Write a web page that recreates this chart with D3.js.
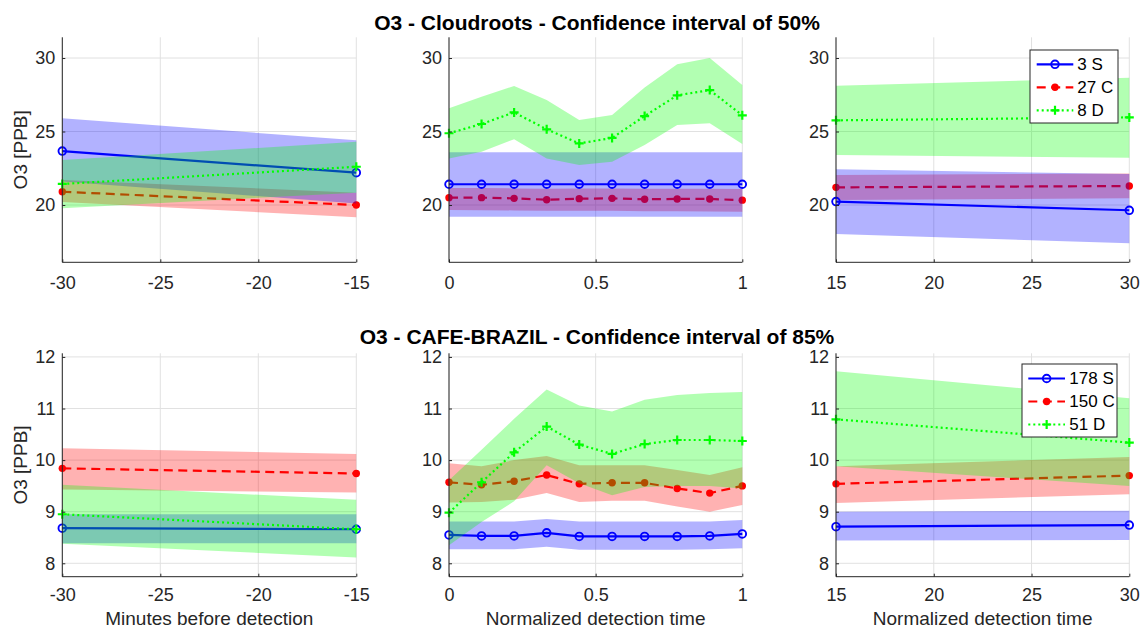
<!DOCTYPE html>
<html><head><meta charset="utf-8">
<script src="https://cdn.jsdelivr.net/npm/d3@7"></script>
<style>body{margin:0;background:#fff} svg{display:block} text{font-family:'Liberation Sans',Arial,Helvetica,sans-serif}</style>
</head><body><svg id="c" width="1142" height="630"></svg>
<script>
// ---------- data ----------
const titles = ["O3 - Cloudroots - Confidence interval of 50%", "O3 - CAFE-BRAZIL - Confidence interval of 85%"];
const xLabels = ["Minutes before detection", "Normalized detection time", "Normalized detection time"];
const yLabel = "O3 [PPB]";
const legendTop = ["3 S", "27 C", "8 D"];
const legendBottom = ["178 S", "150 C", "51 D"];

const xPre = [-30, -15];
const xNorm = [0, 0.111, 0.222, 0.333, 0.444, 0.556, 0.667, 0.778, 0.889, 1];
const xPost = [15, 30];

const xTicksPre = [-30, -25, -20, -15];
const xTicksNorm = [0, 0.5, 1];
const xTicksPost = [15, 20, 25, 30];
const yTicksTop = [20, 25, 30];
const yTicksBottom = [8, 9, 10, 11, 12];
const yDomainTop = [16.1, 31.41];
const yDomainBottom = [7.74, 12.07];

// Cloudroots (top row)
const cloudPreS = [23.67, 22.2],  cloudPreSLo = [21.6, 20.1],  cloudPreSHi = [25.9, 24.4];
const cloudPreC = [20.9, 20.0],   cloudPreCLo = [20.2, 19.16], cloudPreCHi = [21.7, 20.84];
const cloudPreD = [21.43, 22.6],  cloudPreDLo = [19.77, 20.84], cloudPreDHi = [23.06, 24.3];

const cloudDurS   = [21.41, 21.41, 21.41, 21.41, 21.41, 21.41, 21.41, 21.41, 21.41, 21.41];
const cloudDurSLo = [19.2, 19.2, 19.2, 19.2, 19.2, 19.2, 19.2, 19.2, 19.2, 19.2];
const cloudDurSHi = [23.58, 23.58, 23.58, 23.58, 23.58, 23.58, 23.58, 23.58, 23.58, 23.58];
const cloudDurC   = [20.5, 20.5, 20.45, 20.36, 20.43, 20.45, 20.39, 20.41, 20.41, 20.33];
const cloudDurCLo = [19.66, 19.65, 19.63, 19.6, 19.6, 19.6, 19.58, 19.57, 19.56, 19.54];
const cloudDurCHi = [21.15, 21.15, 21.13, 21.1, 21.12, 21.13, 21.1, 21.1, 21.1, 21.08];
const cloudDurD   = [24.88, 25.51, 26.30, 25.15, 24.19, 24.56, 26.05, 27.46, 27.82, 26.10];
const cloudDurDLo = [23.17, 23.63, 24.47, 23.17, 22.72, 22.95, 24.08, 25.44, 25.56, 24.15];
const cloudDurDHi = [26.58, 27.37, 28.1, 27.14, 25.78, 26.12, 28.0, 29.57, 30.0, 28.16];

const cloudPostS = [20.23, 19.64], cloudPostSLo = [18.03, 17.39], cloudPostSHi = [22.43, 22.1];
const cloudPostC = [21.2, 21.29],  cloudPostCLo = [20.34, 20.45], cloudPostCHi = [22.04, 22.15];
const cloudPostD = [25.76, 25.96], cloudPostDLo = [23.4, 23.22],  cloudPostDHi = [28.12, 28.66];

// CAFE-BRAZIL (bottom row)
const cafePreS = [8.68, 8.66], cafePreSLo = [8.39, 8.39], cafePreSHi = [8.95, 8.95];
const cafePreC = [9.84, 9.74], cafePreCLo = [9.43, 9.37], cafePreCHi = [10.23, 10.12];
const cafePreD = [8.95, 8.66], cafePreDLo = [8.38, 8.11], cafePreDHi = [9.52, 9.23];

const cafeDurS   = [8.55, 8.53, 8.53, 8.59, 8.52, 8.52, 8.52, 8.52, 8.53, 8.57];
const cafeDurSLo = [8.27, 8.27, 8.27, 8.32, 8.26, 8.26, 8.26, 8.26, 8.27, 8.29];
const cafeDurSHi = [8.81, 8.81, 8.81, 8.86, 8.81, 8.81, 8.81, 8.81, 8.81, 8.84];
const cafeDurC   = [9.57, 9.52, 9.59, 9.71, 9.54, 9.56, 9.56, 9.45, 9.36, 9.5];
const cafeDurCLo = [9.18, 9.19, 9.23, 9.36, 9.19, 9.21, 9.21, 9.1, 9.0, 9.13];
const cafeDurCHi = [9.94, 9.88, 10.0, 10.08, 9.9, 9.9, 9.9, 9.81, 9.71, 9.86];
const cafeDurD   = [8.98, 9.57, 10.15, 10.65, 10.30, 10.12, 10.31, 10.39, 10.39, 10.37];
const cafeDurDLo = [8.35, 8.8, 9.2, 9.9, 9.55, 9.32, 9.48, 9.5, 9.5, 9.45];
const cafeDurDHi = [9.61, 10.2, 10.8, 11.37, 11.06, 10.94, 11.17, 11.26, 11.3, 11.32];

const cafePostS = [8.71, 8.74], cafePostSLo = [8.44, 8.45], cafePostSHi = [9.0, 9.02];
const cafePostC = [9.54, 9.7],  cafePostCLo = [9.17, 9.34], cafePostCHi = [9.88, 10.06];
const cafePostD = [10.79, 10.34], cafePostDLo = [9.88, 9.5], cafePostDHi = [11.72, 11.2];

// ---------- layout / styles ----------
const svg = d3.select("#c");
const cols = [{l: 62.3, r: 356.3}, {l: 449, r: 742.3}, {l: 836, r: 1129.3}];
const rows = [{t: 37.3, b: 262.3, pad: 14}, {t: 353.3, b: 576.7, pad: 12}];
const axisColor = "#262626";
const sty = {
  S: {color: "#0000ff", fill: "rgba(0,0,255,0.3)", dash: null, marker: "circle"},
  C: {color: "#ff0000", fill: "rgba(255,0,0,0.3)", dash: "9,5.5", marker: "dot"},
  D: {color: "#00ff00", fill: "rgba(0,255,0,0.3)", dash: "2,3", marker: "plus"}
};
const drawOrder = ["C", "S", "D"];

const panels = [
  {row: 0, col: 0, x: xPre, xt: xTicksPre, yt: yTicksTop, yd: yDomainTop,
   s: {S: [cloudPreS, cloudPreSLo, cloudPreSHi], C: [cloudPreC, cloudPreCLo, cloudPreCHi], D: [cloudPreD, cloudPreDLo, cloudPreDHi]}},
  {row: 0, col: 1, x: xNorm, xt: xTicksNorm, yt: yTicksTop, yd: yDomainTop,
   s: {S: [cloudDurS, cloudDurSLo, cloudDurSHi], C: [cloudDurC, cloudDurCLo, cloudDurCHi], D: [cloudDurD, cloudDurDLo, cloudDurDHi]}},
  {row: 0, col: 2, x: xPost, xt: xTicksPost, yt: yTicksTop, yd: yDomainTop,
   s: {S: [cloudPostS, cloudPostSLo, cloudPostSHi], C: [cloudPostC, cloudPostCLo, cloudPostCHi], D: [cloudPostD, cloudPostDLo, cloudPostDHi]}},
  {row: 1, col: 0, x: xPre, xt: xTicksPre, yt: yTicksBottom, yd: yDomainBottom,
   s: {S: [cafePreS, cafePreSLo, cafePreSHi], C: [cafePreC, cafePreCLo, cafePreCHi], D: [cafePreD, cafePreDLo, cafePreDHi]}},
  {row: 1, col: 1, x: xNorm, xt: xTicksNorm, yt: yTicksBottom, yd: yDomainBottom,
   s: {S: [cafeDurS, cafeDurSLo, cafeDurSHi], C: [cafeDurC, cafeDurCLo, cafeDurCHi], D: [cafeDurD, cafeDurDLo, cafeDurDHi]}},
  {row: 1, col: 2, x: xPost, xt: xTicksPost, yt: yTicksBottom, yd: yDomainBottom,
   s: {S: [cafePostS, cafePostSLo, cafePostSHi], C: [cafePostC, cafePostCLo, cafePostCHi], D: [cafePostD, cafePostDLo, cafePostDHi]}}
];

function drawMarker(g, type, cx, cy, color) {
  if (type === "circle") {
    g.append("circle").attr("cx", cx).attr("cy", cy).attr("r", 3.8)
      .attr("fill", "none").attr("stroke", color).attr("stroke-width", 1.9);
  } else if (type === "dot") {
    g.append("circle").attr("cx", cx).attr("cy", cy).attr("r", 3.7).attr("fill", color);
  } else {
    g.append("path").attr("d", `M${cx-4.5},${cy}H${cx+4.5}M${cx},${cy-4.5}V${cy+4.5}`)
      .attr("stroke", color).attr("stroke-width", 2.2).attr("fill", "none");
  }
}
const fmt = d => String(d);

panels.forEach(p => {
  const c = cols[p.col], r = rows[p.row];
  const x = d3.scaleLinear().domain(d3.extent(p.x)).range([c.l, c.r]);
  const y = d3.scaleLinear().domain(p.yd).range([r.b, r.t]);
  const g = svg.append("g");

  // grid
  g.append("g").selectAll("line").data(p.xt).join("line")
    .attr("x1", d => x(d)).attr("x2", d => x(d)).attr("y1", r.t).attr("y2", r.b)
    .attr("stroke", "#e1e1e1").attr("stroke-width", 1);
  g.append("g").selectAll("line").data(p.yt).join("line")
    .attr("x1", c.l).attr("x2", c.r).attr("y1", d => y(d)).attr("y2", d => y(d))
    .attr("stroke", "#e1e1e1").attr("stroke-width", 1);

  drawOrder.forEach(k => {
    const [m, lo, hi] = p.s[k];
    const st = sty[k];
    const pts = p.x.map((xv, i) => ({x: xv, m: m[i], lo: lo[i], hi: hi[i]}));
    g.append("path").datum(pts)
      .attr("d", d3.area().x(d => x(d.x)).y0(d => y(d.lo)).y1(d => y(d.hi)))
      .attr("fill", st.fill).attr("stroke", "none");
    g.append("path").datum(pts)
      .attr("d", d3.line().x(d => x(d.x)).y(d => y(d.m)))
      .attr("fill", "none").attr("stroke", st.color).attr("stroke-width", 2.2)
      .attr("stroke-dasharray", st.dash);
    const mg = g.append("g");
    pts.forEach(d => drawMarker(mg, st.marker, x(d.x), y(d.m), st.color));
  });

  // axes
  const ax = g.append("g").attr("transform", `translate(0,${r.b})`)
    .call(d3.axisBottom(x).tickValues(p.xt).tickFormat(fmt).tickSizeInner(-3).tickSizeOuter(0).tickPadding(r.pad));
  const ay = g.append("g").attr("transform", `translate(${c.l},0)`)
    .call(d3.axisLeft(y).tickValues(p.yt).tickFormat(fmt).tickSizeInner(-3).tickSizeOuter(0).tickPadding(7));
  [ax, ay].forEach(a => {
    a.select(".domain").attr("stroke", axisColor).attr("stroke-width", 1);
    a.selectAll(".tick line").attr("stroke", axisColor);
    a.selectAll(".tick text").attr("fill", axisColor).style("font-size", "18px")
      .style("font-family", "'Liberation Sans',Arial,sans-serif");
  });
  ay.select(".domain").attr("d", `M0,${r.b}V${r.t}`);
  ax.select(".domain").attr("d", `M${c.l},0H${c.r}`);

  if (p.col === 0) {
    svg.append("text").attr("transform", `translate(20.7,${(r.t + r.b) / 2}) rotate(-90)`)
      .attr("text-anchor", "middle").attr("dy", "0.35em").attr("fill", axisColor)
      .style("font-size", "19px").text(yLabel);
  }
  if (p.row === 1) {
    svg.append("text").attr("x", (c.l + c.r) / 2).attr("y", 625)
      .attr("text-anchor", "middle").attr("fill", axisColor)
      .style("font-size", "19px").text(xLabels[p.col]);
  }
});

// titles
svg.append("text").attr("x", 597).attr("y", 30).attr("text-anchor", "middle")
  .style("font-size", "21px").style("font-weight", "bold").attr("fill", "#000").text(titles[0]);
svg.append("text").attr("x", 597).attr("y", 344).attr("text-anchor", "middle")
  .style("font-size", "21px").style("font-weight", "bold").attr("fill", "#000").text(titles[1]);

// legends
function legend(box, items, lineX0, lineX1, textX, ys) {
  const g = svg.append("g");
  g.append("rect").attr("x", box[0]).attr("y", box[1]).attr("width", box[2]).attr("height", box[3])
    .attr("fill", "#fff").attr("stroke", axisColor).attr("stroke-width", 1);
  ["S", "C", "D"].forEach((k, i) => {
    const st = sty[k];
    g.append("line").attr("x1", lineX0).attr("x2", lineX1).attr("y1", ys[i]).attr("y2", ys[i])
      .attr("stroke", st.color).attr("stroke-width", 2.2).attr("stroke-dasharray", st.dash);
    drawMarker(g, st.marker, (lineX0 + lineX1) / 2, ys[i], st.color);
    g.append("text").attr("x", textX).attr("y", ys[i]).attr("dy", "0.35em")
      .attr("fill", "#000").style("font-size", "17px").text(items[i]);
  });
}
legend([1030, 50, 88, 73], legendTop, 1036.7, 1073.3, 1077.3, [64.3, 87.3, 110.3]);
legend([1022, 364, 95, 73], legendBottom, 1028.3, 1065, 1069.3, [378.5, 401.5, 424.5]);
</script></body></html>
